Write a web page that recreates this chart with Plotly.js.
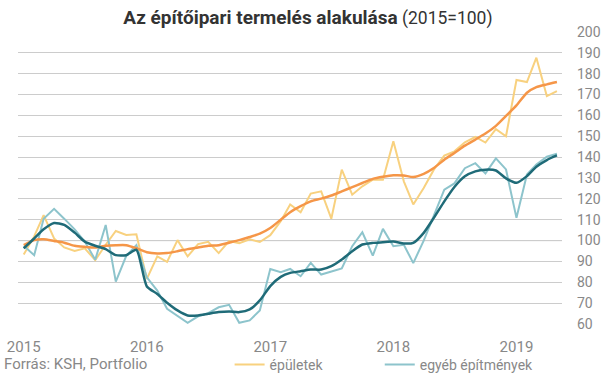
<!DOCTYPE html>
<html>
<head>
<meta charset="utf-8">
<script src="https://cdn.plot.ly/plotly-3.0.1.min.js"></script>
<style>
html,body{margin:0;padding:0;background:#fff;}
#chart{width:605px;height:378px;}
</style>
</head>
<body>
<div id="chart"></div>
<script>
const months = [
  "2015-01-01","2015-02-01","2015-03-01","2015-04-01","2015-05-01","2015-06-01","2015-07-01","2015-08-01","2015-09-01","2015-10-01","2015-11-01","2015-12-01",
  "2016-01-01","2016-02-01","2016-03-01","2016-04-01","2016-05-01","2016-06-01","2016-07-01","2016-08-01","2016-09-01","2016-10-01","2016-11-01","2016-12-01",
  "2017-01-01","2017-02-01","2017-03-01","2017-04-01","2017-05-01","2017-06-01","2017-07-01","2017-08-01","2017-09-01","2017-10-01","2017-11-01","2017-12-01",
  "2018-01-01","2018-02-01","2018-03-01","2018-04-01","2018-05-01","2018-06-01","2018-07-01","2018-08-01","2018-09-01","2018-10-01","2018-11-01","2018-12-01",
  "2019-01-01","2019-02-01","2019-03-01","2019-04-01","2019-05-01"
];

// épületek (raw index)
const epuletek = [
  93.3,102,112.2,101,96.7,95,96.3,90.6,98,104.6,102.7,103,
  81.6,92.4,89.8,100.2,92.4,98.3,99.4,94,99.8,98.7,100.6,99.3,
  102.6,109.3,117.3,113.6,122.5,123.6,110.5,134,122,126,129.2,129.2,
  147.6,128.4,117.3,125.2,134,140.7,142.8,147.1,149.7,147,153.4,150,
  177,176,187.7,169.3,171.7
];

// egyéb építmények (raw index)
const egyeb = [
  97.5,93,110.5,115.2,110.5,105.4,99.5,90.8,107.5,80.3,92.7,97.8,
  82.4,76,67.3,63.7,60.6,63.7,65.2,68,69.2,60.6,61.7,66.5,
  86.4,84.8,86.4,82.9,89.3,83.7,85.3,86.6,97.3,104,92.8,105.6,
  97.3,98,89.2,100,112,124.4,127.4,134.7,137.1,132.2,139.4,134.1,
  110.9,131.7,136.5,140.2,141.6
];

// épületek trend
const epuletekTrend = [
  97.8,100.2,100.6,99.8,99,97.5,97,96.7,97.5,97.8,97.8,96.3,
  94.4,93.8,94,94.9,95.9,96.7,97.5,97.8,99,100.2,101.7,103.3,
  106,110,113.6,116.5,118.8,120.1,121.6,123.6,125.6,127.6,129.6,130.6,
  131.3,131.2,130.5,132,134.8,138.8,142,145.5,148.4,151.3,155,159.8,
  164.8,170.9,173.6,174.9,176
];

// egyéb építmények trend
const egyebTrend = [
  96.3,101,105.4,108.4,107.5,103.8,99.5,97.5,95.9,93,93,95.6,
  78,74.4,70.2,66.5,64.1,64.1,64.9,65.7,66,65.7,67,71.3,
  78.2,82.6,84.5,85.3,86.1,86.1,87.7,90.9,94.9,98.1,98.9,99.2,
  99.5,98.6,98.9,103.7,110.9,118.8,125.7,130.8,133.2,134,133.6,129.8,
  127.7,130.9,135.4,138.6,140.8
];

const yearTicks = ["2015-01-01","2016-01-01","2017-01-01","2018-01-01","2019-01-01"];
const yearLabels = ["2015","2016","2017","2018","2019"];
const yTicks = [60,70,80,90,100,110,120,130,140,150,160,170,180,190,200];

const C_EPU = "#F8D17F", C_EGY = "#8DC4CC", C_EPU_T = "#F59648", C_EGY_T = "#1F6B78";

const traces = [
  {x: months, y: epuletek, type: "scatter", mode: "lines", name: "épületek",
   legend: "legend", line: {color: C_EPU, width: 2}},
  {x: months, y: egyeb, type: "scatter", mode: "lines", name: "egyéb építmények",
   legend: "legend2", line: {color: C_EGY, width: 2}},
  {x: months, y: epuletekTrend, type: "scatter", mode: "lines", name: "épületek trend",
   showlegend: false, line: {color: C_EPU_T, width: 2.5, shape: "spline", smoothing: 0.6}},
  {x: months, y: egyebTrend, type: "scatter", mode: "lines", name: "egyéb építmények trend",
   showlegend: false, line: {color: C_EGY_T, width: 2.5, shape: "spline", smoothing: 0.6}}
];

const legendBase = {
  orientation: "h", xanchor: "left", y: -0.14, yanchor: "middle",
  font: {size: 14, color: "#888"}, bgcolor: "rgba(0,0,0,0)"
};

const layout = {
  width: 605, height: 378,
  margin: {l: 18, r: 43, t: 32, b: 54, autoexpand: false},
  paper_bgcolor: "#fff", plot_bgcolor: "#fff",
  font: {family: "Roboto, 'Open Sans', sans-serif", color: "#888"},
  title: {
    text: "<span style=\"font-weight:bold;font-size:19px\">Az építőipari termelés alakulása</span> (2015=100)",
    font: {family: "Roboto, sans-serif", size: 17.5, color: "#333"},
    x: 0.509, xref: "container", xanchor: "center",
    y: 0.952, yref: "container", yanchor: "middle"
  },
  xaxis: {
    type: "date",
    range: ["2014-12-15", "2019-05-16"],
    tickvals: yearTicks, ticktext: yearLabels,
    showgrid: false, zeroline: false, showline: false, ticks: "",
    ticklabelstandoff: 12,
    tickfont: {size: 15, color: "#888"}
  },
  yaxis: {
    side: "right",
    range: [60, 200],
    tickvals: yTicks,
    showgrid: true, gridcolor: "#cccccc", gridwidth: 1,
    zeroline: false, showline: false, ticks: "",
    ticklabelstandoff: 14,
    tickfont: {size: 14, color: "#888"}
  },
  shapes: [
    {type: "line", xref: "paper", x0: 0, x1: 1, yref: "y", y0: 100, y1: 100,
     line: {color: "#808080", width: 1}, layer: "below"}
  ],
  showlegend: true,
  legend: Object.assign({}, legendBase, {x: 0.389}),
  legend2: Object.assign({}, legendBase, {x: 0.665}),
  annotations: [
    {text: "Forrás: KSH, Portfolio", xref: "paper", yref: "paper", x: -0.0294, y: -0.137,
     xanchor: "left", yanchor: "middle", showarrow: false, font: {size: 15, color: "#888"}}
  ]
};

Plotly.newPlot("chart", traces, layout, {displayModeBar: false, staticPlot: true});
</script>
</body>
</html>
